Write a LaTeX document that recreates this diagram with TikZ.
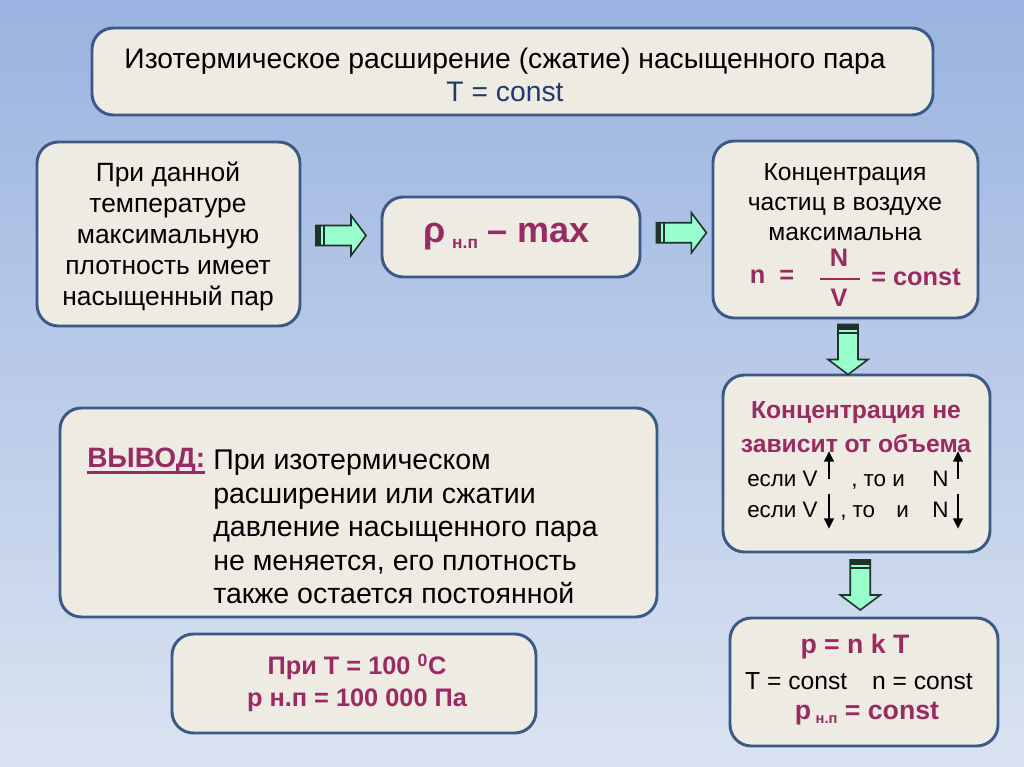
\documentclass[tikz,border=0pt]{standalone}
\usepackage{fontspec}
\setmainfont{Liberation Sans}
\usetikzlibrary{calc,arrows.meta}
\definecolor{bgtop}{HTML}{9AB3E0}
\definecolor{bgbot}{HTML}{DAE3F1}
\definecolor{boxfill}{HTML}{EEEBE2}
\definecolor{boxdraw}{HTML}{3A5A85}
\definecolor{purp}{HTML}{982B62}
\definecolor{tblue}{HTML}{1F3A6E}
\definecolor{mint}{HTML}{99FFCC}
\definecolor{adark}{HTML}{1F332C}
\begin{document}
\begin{tikzpicture}[x=0.75pt,y=-0.75pt,
  box/.style={draw=boxdraw, fill=boxfill, line width=2.2pt, rounded corners=16pt, inner sep=0pt},
  txt/.style={inner sep=0pt, align=center, text=black},
  pur/.style={inner sep=0pt, align=center, text=purp},
  small/.style={txt, anchor=base west, font=\fontsize{16.8}{21}\selectfont},
  vdir/.style={line width=2pt, -{Triangle[length=8pt,width=7pt]}},
  barrow/.pic={
    \draw[fill=mint, draw=adark, line width=1.2pt, line join=miter] (-25,-10) -- (10,-10) -- (10,-20) -- (25,0) -- (10,20) -- (10,10) -- (-25,10) -- cycle;
    \fill[adark] (-25,-10) rectangle (-20,10);
    \fill[adark] (-18,-10) rectangle (-16,10);
  }]
\useasboundingbox (0,0) rectangle (1024,767);
\shade[top color=bgtop,bottom color=bgbot] (0,0) rectangle (1024,767);

% boxes
\node[box, minimum width=630.75pt, minimum height=65.25pt] (title) at (512.5,71.5) {};
\node[box, minimum width=197.25pt, minimum height=138pt] (left) at (168.5,234) {};
\node[box, minimum width=193.5pt, minimum height=60pt] (mid) at (511,237) {};
\node[box, minimum width=198.75pt, minimum height=132.75pt] (rtop) at (845.5,229.5) {};
\node[box, minimum width=200.25pt, minimum height=132.75pt] (rmid) at (856.5,463.5) {};
\node[box, minimum width=201pt, minimum height=96pt] (rbot) at (864,682) {};
\node[box, minimum width=447.75pt, minimum height=156.75pt] (concl) at (358.5,512.5) {};
\node[box, minimum width=273pt, minimum height=74.25pt] (bot) at (354,683.5) {};

% arrows
\pic at ($(left.east)!0.5!(mid.west)$) {barrow};
\pic at ($(mid.east)!0.57!(rtop.west)$) {barrow};
\pic[rotate=-90] at ($(rtop.south)!0.5!(rmid.north)+(-3,3)$) {barrow};
\pic[rotate=-90] at ($(rmid.south)!0.5!(rbot.north)$) {barrow};

% texts
\node[txt, font=\fontsize{21.2}{24.75}\selectfont] (ttl) at (505,75) {Изотермическое расширение (сжатие) насыщенного пара\\\textcolor{tblue}{T = const}};
\node[txt, font=\fontsize{19.8}{23.25}\selectfont] (lt) at (168,236) {При данной\\температуре\\максимальную\\плотность имеет\\насыщенный пар};
\node[pur, font=\bfseries\fontsize{27}{30}\selectfont] (mt) at (507,237) {ρ\,\raisebox{-4pt}{\fontsize{13}{15}\selectfont н.п} – max};

\node[txt, font=\fontsize{18.5}{22.5}\selectfont] (rt) at (845,202) {Концентрация\\частиц в воздухе\\максимальна};
\node[pur, font=\bfseries\fontsize{19}{22}\selectfont] (fn) at (772,277) {n\ \ =};
\node[pur, font=\bfseries\fontsize{19}{22}\selectfont] (fN) at (839,258) {N};
\node[pur, font=\bfseries\fontsize{19}{22}\selectfont] (fV) at (839,298) {V};
\draw[purp, line width=1.5pt] ($(fN)!0.5!(fV)+(-19,1)$) -- ($(fN)!0.5!(fV)+(21,1)$);
\node[pur, font=\bfseries\fontsize{19}{22}\selectfont] (fc) at (916,277) {= const};

\node[pur, font=\bfseries\fontsize{18.5}{22}\selectfont] (rm1) at (856,413) {Концентрация не};
\node[pur, font=\bfseries\fontsize{18.5}{22}\selectfont] (rm2) at (856,444) {зависит от объема};
\node[small] (rm3a) at (747,486) {если V};
\node[small] (rm3b) at (851,486) {, то и};
\node[small] (rm3c) at (932,486) {N};
\node[small] (rm4a) at (747,517) {если V};
\node[small] (rm4b) at (840,517) {, то};
\node[small] (rm4c) at (896,517) {и};
\node[small] (rm4d) at (932,517) {N};
\draw[vdir] (829,479) -- (829,451);
\draw[vdir] (958,479) -- (958,451);
\draw[vdir] (829,494) -- (829,529);
\draw[vdir] (958,494) -- (958,529);

\node[pur, font=\bfseries\fontsize{20}{24}\selectfont] (rb1) at (855,647) {p = n k T};
\node[txt, font=\fontsize{18.5}{22}\selectfont] (rb2) at (859,681) {T = const\quad n = const};
\node[pur, font=\bfseries\fontsize{20}{24}\selectfont] (rb3) at (867,714) {p\,\raisebox{-3pt}{\fontsize{11}{13}\selectfont н.п} = const};

\node[pur, anchor=base west, font=\bfseries\fontsize{21}{25}\selectfont] (vyv) at (87,467) {ВЫВОД:};
\draw[purp, line width=2pt] ([yshift=-4pt]vyv.base west) -- ([yshift=-4pt]vyv.base east);
\node[txt, anchor=west, align=left, font=\fontsize{21.4}{25.1}\selectfont] (ct) at (213,527) {При изотермическом\\расширении или сжатии\\давление насыщенного пара\\не меняется, его плотность\\также остается постоянной};

\node[pur, font=\bfseries\fontsize{19}{24}\selectfont] (bt) at (357,683) {При Т = 100 \textsuperscript{0}C\\р н.п = 100 000 Па};
\end{tikzpicture}
\end{document}
